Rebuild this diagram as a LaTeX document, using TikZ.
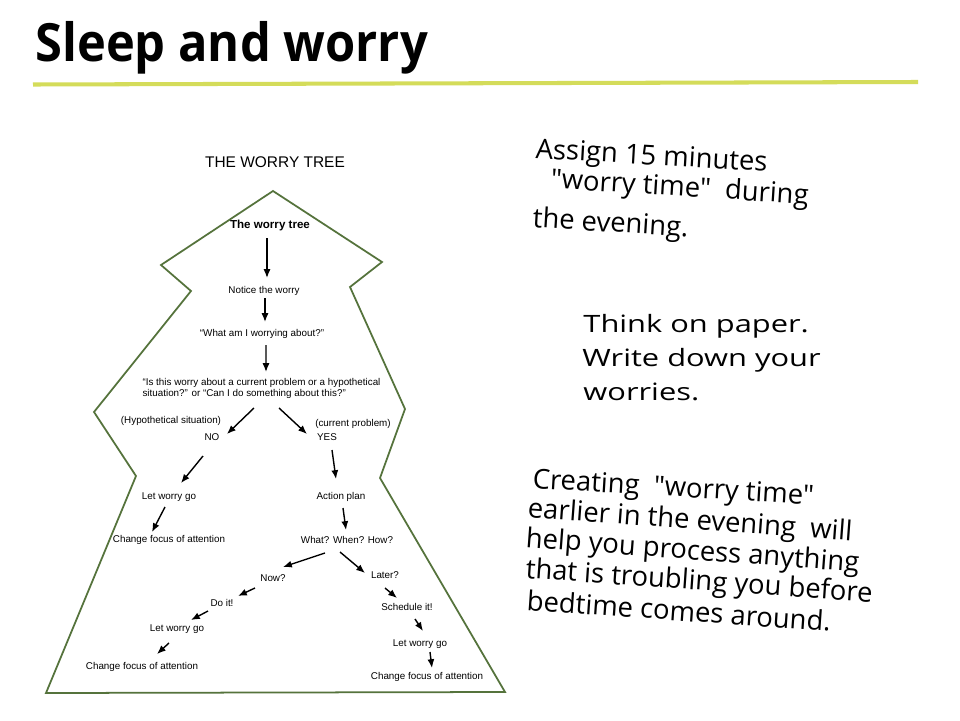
\documentclass[tikz,border=0pt]{standalone}
\usepackage{fontspec}
\setmainfont{Liberation Sans}
\newfontfamily\slidefont{Open Sans}
\usetikzlibrary{arrows.meta,calc}
\definecolor{treegreen}{RGB}{85,115,60}
\definecolor{ruleyellow}{RGB}{212,220,90}

\begin{document}
\begin{tikzpicture}[
x=0.02cm, y=-0.02cm,
obj/.style={font=\fontsize{5.6}{6.4}\selectfont, text height=4.2pt, text depth=1.2pt, inner sep=1pt},
question/.style={font=\fontsize{5.6}{6.4}\selectfont, align=left, inner sep=1pt},
arrow/.style={-{Latex[length=5pt,width=4pt]}, line width=0.8pt},
outline/.style={draw=treegreen, line width=1pt, line join=miter},
note/.style={font=\slidefont\fontsize{15.6}{19}\selectfont, anchor=base west, inner sep=0pt, text height=0.7em, text depth=0.1em},
paper/.style={font=\slidefont\fontsize{13.6}{19}\selectfont, anchor=base west, inner sep=0pt, xscale=1.29} ]

\useasboundingbox (0,0) rectangle (960,720);
\fill[white] (0,0) rectangle (960,720);

\node[anchor=base west, inner sep=0pt, font=\slidefont\bfseries\fontsize{27.8}{30}\selectfont, yscale=1.08](title) at (35,61) {Sleep and worry};

\draw[ruleyellow, line width=2.3pt] (33,84.5) -- (918,82);

\draw[outline] (273,191) -- (382,262) -- (350,287) -- (405,409) -- (380,478) -- (505,692)
  -- (46,693) -- (136,476) -- (94,412) -- (191,291) -- (161,265) -- cycle;

\node[font=\fontsize{8.8}{10}\selectfont](heading) at (275,162) {THE WORRY TREE};

\node[obj, font=\bfseries\fontsize{6.6}{7.5}\selectfont](tree) at (270,226) {The worry tree};

\node[obj](notice) at (264,291) {Notice the worry};

\node[obj](what) at (262,334) {“What am I worrying about?”};

\node[question](ask) at (261.5,388.5) {“Is this worry about a current problem or a hypothetical\\situation?” or “Can I do something about this?”};

\node[obj](hyp) at (171,421) {(Hypothetical situation)};

\node[obj](no) at (212,438) {NO};

\node[obj](curr) at (353,424) {(current problem)};

\node[obj](yes) at (327,438) {YES};

\node[obj](letgoA) at (169,497) {Let worry go};

\node[obj](action) at (341,497) {Action plan};

\node[obj](focusA) at (169,540) {Change focus of attention};

\node[obj](www) at (347,541) {What? When? How?};

\node[obj](now) at (273,579) {Now?};

\node[obj](later) at (385,576) {Later?};

\node[obj](doit) at (222,604) {Do it!};

\node[obj](letgoB) at (177,629) {Let worry go};

\node[obj](focusB) at (142,667) {Change focus of attention};

\node[obj](sched) at (407,608) {Schedule it!};

\node[obj](letgoC) at (420,644) {Let worry go};

\node[obj](focusC) at (427,677) {Change focus of attention};

\draw[arrow] ($(tree)+(-3,12)$) -- ($(notice)+(3,-13)$);
\draw[arrow] ($(notice)+(1,7)$) -- ($(what)+(3,-12)$);
\draw[arrow] ($(what)+(4,11)$) -- ($(ask)+(4.5,-16.5)$);
\draw[arrow] ($(ask)+(-7.5,19.5)$) -- ($(no)+(15,-4)$);
\draw[arrow] ($(ask)+(17.5,19.5)$) -- ($(yes)+(-20,-4)$);
\draw[arrow] ($(no)+(-9,18)$) -- ($(letgoA)+(12,-14)$);
\draw[arrow] ($(yes)+(5,12)$) -- ($(action)+(-5,-18)$);
\draw[arrow] ($(letgoA)+(-4,10)$) -- ($(focusA)+(-17,-8)$);
\draw[arrow] ($(action)+(2,11)$) -- ($(www)+(-1,-11)$);
\draw[arrow] ($(www)+(-22,12)$) -- ($(now)+(10,-12)$);
\draw[arrow] ($(www)+(-7,11)$) -- ($(later)+(-20,-3)$);
\draw[arrow] ($(now)+(-18,9)$) -- ($(doit)+(16,-8)$);
\draw[arrow] ($(doit)+(-14,7)$) -- ($(letgoB)+(14,-9)$);
\draw[arrow] ($(letgoB)+(-8,14)$) -- ($(focusB)+(15,-13)$);
\draw[arrow] ($(later)+(0,12)$) -- ($(sched)+(-10,-10)$);
\draw[arrow] ($(sched)+(8,11)$) -- ($(letgoC)+(3,-13)$);
\draw[arrow] ($(letgoC)+(10,8)$) -- ($(focusC)+(5,-9)$);

\node[note, rotate=-3.3](assignA) at (535,158) {Assign 15 minutes};
\node[note, rotate=-3.6](assignB) at (550,188) {"worry time"~ during};
\node[note, rotate=-3.6](assignC) at (532,227) {the evening.};

\node[paper](paperA) at (583,332) {Think on paper.};
\node[paper](paperB) at (582,366) {Write down your};
\node[paper](paperC) at (583,400) {worries.};

\node[note, rotate=-3.4](createA) at (532,488) {Creating~ "worry time"};
\node[note, rotate=-4.2](createB) at (527,517) {earlier in the evening~ will};
\node[note, rotate=-4.3](createC) at (525,547) {help you process anything};
\node[note, rotate=-4.0](createD) at (525,578) {that is troubling you before};
\node[note, rotate=-4.0](createE) at (526,610) {bedtime comes around.};

\end{tikzpicture}
\end{document}
